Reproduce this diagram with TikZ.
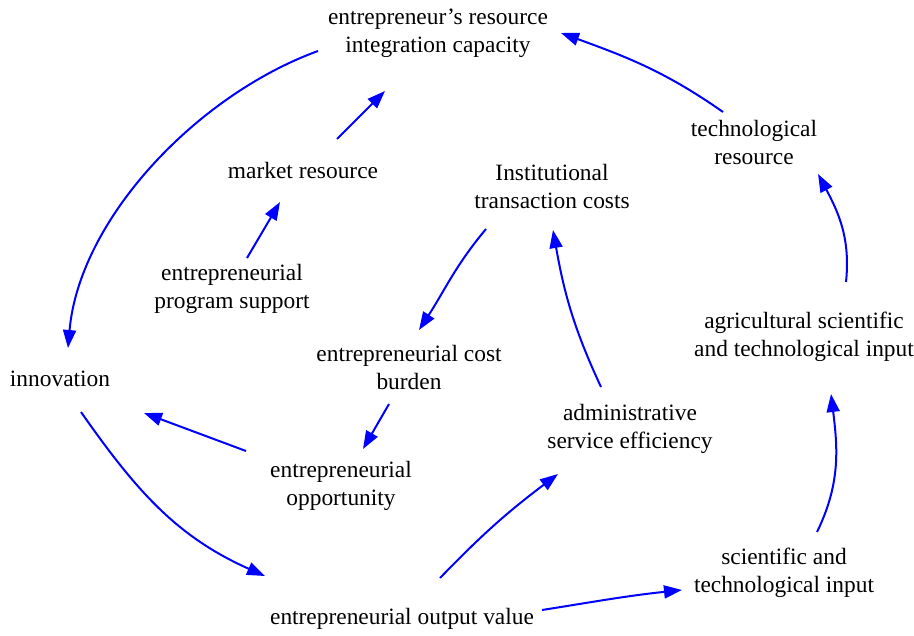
\documentclass[tikz,border=0pt]{standalone}
\usepackage{fontspec}
\setmainfont{Liberation Serif}
\usetikzlibrary{arrows.meta}

\tikzset{
  label/.style={align=center, inner sep=0pt, font=\fontsize{11.7}{14}\selectfont},
  link/.style={draw=blue, line width=1pt,
    -{Triangle[length=9pt, width=6.5pt]}},
}

\begin{document}
\begin{tikzpicture}[x=0.5pt, y=-0.5pt]
  \useasboundingbox (0,0) rectangle (914,636);

  % variables of the causal loop
  \node[label] (cap)   at (438,33)  {entrepreneur’s resource\\integration capacity};
  \node[label] (mkt)   at (303,170) {market resource};
  \node[label] (prog)  at (232,289) {entrepreneurial\\program support};
  \node[label] (inst)  at (552,186) {Institutional\\transaction costs};
  \node[label] (tech)  at (754,142) {technological\\resource};
  \node[label] (agri)  at (804,337) {agricultural scientific\\and technological input};
  \node[label] (innov) at (60,379)  {innovation};
  \node[label] (cost)  at (409,367) {entrepreneurial cost\\burden};
  \node[label] (admin) at (630,429) {administrative\\service efficiency};
  \node[label] (opp)   at (341,486) {entrepreneurial\\opportunity};
  \node[label] (sci)   at (784,573) {scientific and\\technological input};
  \node[label] (out)   at (402,619) {entrepreneurial output value};

  % causal links
  \draw[link] ([shift={(-120,18)}]cap.center) to[out=200, in=85, looseness=0.85]
              ([shift={(8,-31)}]innov.center);
  \draw[link] ([shift={(34,-31)}]mkt.center) -- ([shift={(-53,58)}]cap.center);
  \draw[link] ([shift={(15,-31)}]prog.center) -- ([shift={(-23,32)}]mkt.center);
  \draw[link] ([shift={(-31,-30)}]tech.center) to[out=145, in=-20]
              ([shift={(123,0)}]cap.center);
  \draw[link] ([shift={(42,-55)}]agri.center) to[out=84, in=-62]
              ([shift={(64,32)}]tech.center);
  \draw[link] ([shift={(-66,43)}]inst.center) to[out=230, in=57]
              ([shift={(10,-37)}]cost.center);
  \draw[link] ([shift={(-20,37)}]cost.center) -- ([shift={(22,-37)}]opp.center);
  \draw[link] ([shift={(-95,-35)}]opp.center) -- ([shift={(84,34)}]innov.center);
  \draw[link] ([shift={(21,33)}]innov.center) to[out=-55, in=156]
              ([shift={(-137,-43)}]out.center);
  \draw[link] ([shift={(38,-41)}]out.center) to[out=46, in=217]
              ([shift={(-72,45)}]admin.center);
  \draw[link] ([shift={(-29,-42)}]admin.center) to[out=115, in=-80]
              ([shift={(1,44)}]inst.center);
  \draw[link] ([shift={(140,-9)}]out.center) to[out=9, in=186]
              ([shift={(-102,17)}]sci.center);
  \draw[link] ([shift={(33,-41)}]sci.center) to[out=64, in=-83]
              ([shift={(27,57)}]agri.center);
\end{tikzpicture}
\end{document}
